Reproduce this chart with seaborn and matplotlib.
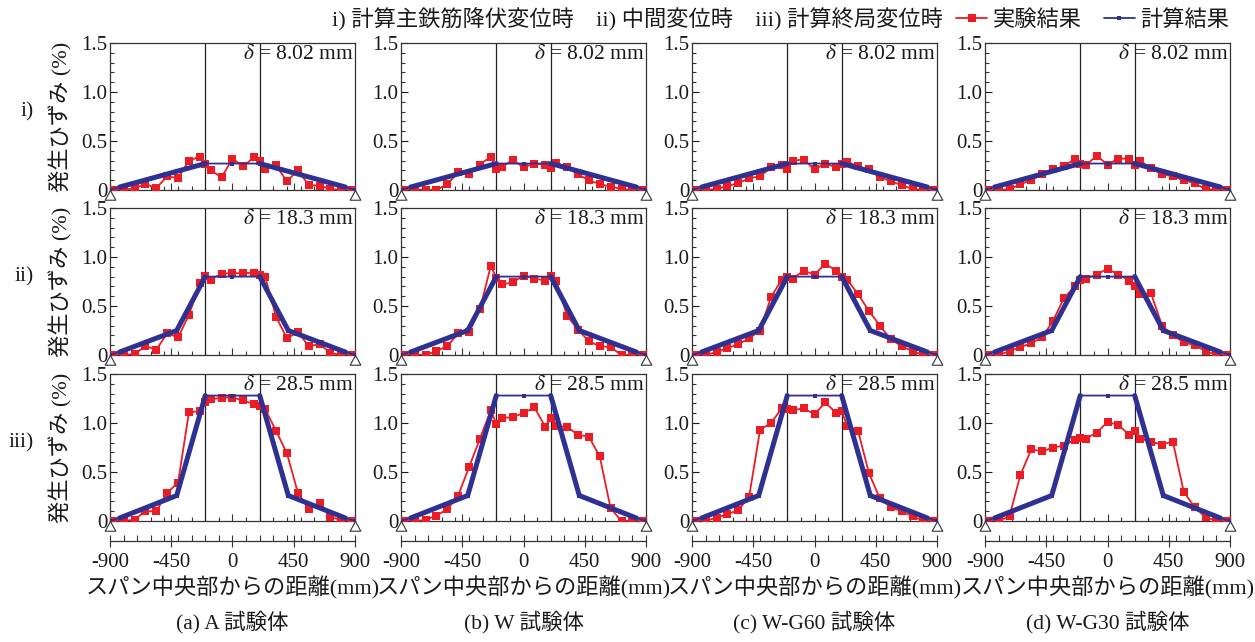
import matplotlib
matplotlib.use("Agg")
import matplotlib.pyplot as plt
import seaborn as sns
from matplotlib.lines import Line2D
from matplotlib.path import Path
from matplotlib.ticker import FixedLocator, MultipleLocator

# ---------------- data ----------------
X_EXP = [-880, -800, -720, -640, -560, -480, -400, -320, -240, -200, -160, -80, 0,
         80, 160, 200, 240, 320, 400, 480, 560, 640, 720, 800, 880]

A_I = [0.00, 0.00, 0.02, 0.06, 0.02, 0.14, 0.12, 0.30, 0.34, 0.27, 0.20, 0.13, 0.32,
       0.24, 0.34, 0.30, 0.21, 0.25, 0.09, 0.20, 0.05, 0.045, 0.01, 0.00, 0.00]
A_II = [0.00, 0.00, 0.01, 0.09, 0.055, 0.22, 0.18, 0.41, 0.73, 0.81, 0.77, 0.83, 0.835,
        0.835, 0.84, 0.82, 0.80, 0.39, 0.17, 0.235, 0.09, 0.11, 0.02, 0.00, 0.00]
A_III = [0.00, 0.00, 0.014, 0.10, 0.10, 0.29, 0.39, 1.11, 1.12, 1.21, 1.24, 1.26, 1.26,
         1.23, 1.19, 1.17, 1.14, 0.92, 0.69, 0.29, 0.12, 0.18, 0.04, 0.01, 0.00]

B_I = [0.00, 0.005, 0.00, 0.00, 0.06, 0.18, 0.165, 0.26, 0.34, 0.21, 0.23, 0.31, 0.23,
       0.27, 0.26, 0.22, 0.28, 0.23, 0.16, 0.10, 0.06, 0.035, 0.01, 0.00, 0.00]
B_II = [0.00, 0.00, 0.00, 0.04, 0.09, 0.22, 0.23, 0.47, 0.91, 0.79, 0.72, 0.74, 0.81,
        0.78, 0.76, 0.81, 0.76, 0.40, 0.26, 0.14, 0.09, 0.08, 0.00, 0.00, 0.00]
B_III = [0.00, 0.00, 0.01, 0.055, 0.12, 0.26, 0.55, 0.84, 1.13, 0.99, 1.05, 1.06, 1.10,
         1.16, 0.96, 1.05, 0.97, 0.96, 0.88, 0.86, 0.66, 0.13, 0.00, 0.00, 0.00]

C_I = [0.00, 0.00, 0.01, 0.04, 0.07, 0.12, 0.14, 0.23, 0.25, 0.21, 0.30, 0.31, 0.21,
       0.27, 0.23, 0.27, 0.29, 0.24, 0.21, 0.13, 0.09, 0.05, 0.01, 0.00, 0.00]
C_II = [0.00, 0.00, 0.03, 0.07, 0.11, 0.17, 0.25, 0.59, 0.77, 0.80, 0.78, 0.86, 0.82,
        0.93, 0.86, 0.80, 0.77, 0.62, 0.45, 0.30, 0.16, 0.09, 0.04, 0.00, 0.00]
C_III = [0.00, 0.00, 0.034, 0.07, 0.11, 0.25, 0.93, 1.00, 1.15, 1.14, 1.13, 1.15, 1.09,
         1.21, 1.10, 1.12, 0.97, 0.92, 0.49, 0.23, 0.14, 0.10, 0.05, 0.00, 0.00]

D_I = [0.00, 0.00, 0.007, 0.06, 0.10, 0.16, 0.21, 0.24, 0.32, 0.27, 0.25, 0.35, 0.26,
       0.32, 0.32, 0.25, 0.30, 0.22, 0.16, 0.14, 0.10, 0.07, 0.01, 0.00, 0.00]
D_II = [0.00, 0.00, 0.04, 0.08, 0.12, 0.18, 0.35, 0.58, 0.70, 0.77, 0.78, 0.82, 0.88,
        0.82, 0.76, 0.70, 0.62, 0.63, 0.30, 0.20, 0.13, 0.10, 0.04, 0.00, 0.00]
D_III = [0.00, 0.00, 0.05, 0.47, 0.73, 0.71, 0.75, 0.77, 0.83, 0.845, 0.84, 0.90, 1.01,
         0.98, 0.88, 0.92, 0.84, 0.81, 0.78, 0.81, 0.30, 0.14, 0.04, 0.00, 0.00]

X_CALC = [-900, -830, -410, -200, 0, 200, 410, 830, 900]
CALC_I = [0.0, 0.03, 0.19, 0.27, 0.27, 0.27, 0.19, 0.03, 0.0]
CALC_II = [0.0, 0.03, 0.25, 0.80, 0.80, 0.80, 0.25, 0.03, 0.0]
CALC_III = [0.0, 0.03, 0.26, 1.28, 1.28, 1.28, 0.26, 0.03, 0.0]

BOUNDARY_X = [-200, 200]
SUPPORT_X = [-900, 900]
X_TICKS = [-900, -450, 0, 450, 900]
X_TICK_LABELS = ["-900", "-450", "0", "450", "900"]
Y_TICKS = [0, 0.5, 1.0, 1.5]
Y_TICK_LABELS = ["0", "0.5", "1.0", "1.5"]

ROW_NAMES = ["i)", "ii)", "iii)"]
DELTAS = ["8.02", "18.3", "28.5"]
COL_TITLES = ["(a) A 試験体", "(b) W 試験体", "(c) W-G60 試験体", "(d) W-G30 試験体"]
HEADER = "i) 計算主鉄筋降伏変位時\u3000ii) 中間変位時\u3000iii) 計算終局変位時"
LEGEND_LABELS = ["実験結果", "計算結果"]
Y_LABEL = "発生ひずみ (%)"
X_LABEL = "スパン中央部からの距離(mm)"

EXP = [[A_I, B_I, C_I, D_I], [A_II, B_II, C_II, D_II], [A_III, B_III, C_III, D_III]]
CALC = [CALC_I, CALC_II, CALC_III]

RED = "#EC1C24"
BLUE = "#2E3192"
FRAME = "#333333"
TXT = "#1a1a1a"

# ---------------- style ----------------
sns.set_theme(style="ticks")
plt.rcParams["font.family"] = ["Liberation Serif", "Noto Sans CJK JP"]
plt.rcParams["mathtext.fontset"] = "stix"
plt.rcParams["axes.unicode_minus"] = False

W, H = 1255, 642
fig = plt.figure(figsize=(W / 100, H / 100), dpi=100)
fig.patch.set_facecolor("white")

COL_LEFT = [110, 401, 692, 985]
ROW_TOP = [43, 208, 374]
PW, PH = 245, 147

tri = Path([(0, 0), (-0.55, -1), (0.55, -1), (0, 0)],
           [Path.MOVETO, Path.LINETO, Path.LINETO, Path.CLOSEPOLY])

for r in range(3):
    for c in range(4):
        ax = fig.add_axes([COL_LEFT[c] / W, 1 - (ROW_TOP[r] + PH) / H, PW / W, PH / H])
        ax.set_facecolor("white")
        for xb in BOUNDARY_X:
            ax.axvline(xb, color="#222222", lw=0.9, zorder=1)

        exp = EXP[r][c]
        calc = CALC[r]
        sns.lineplot(x=X_EXP, y=exp, ax=ax, color=RED, lw=1.3, marker="s",
                     markersize=5.5, markeredgewidth=0, estimator=None, sort=False,
                     legend=False, zorder=3)
        sns.lineplot(x=X_CALC, y=calc, ax=ax, color=BLUE, lw=1.3, marker="s",
                     markersize=3, markeredgewidth=0, estimator=None, sort=False,
                     legend=False, zorder=4)
        sns.lineplot(x=X_CALC[1:4], y=calc[1:4], ax=ax, color=BLUE, lw=3.6,
                     estimator=None, sort=False, legend=False, zorder=4)
        sns.lineplot(x=X_CALC[5:8], y=calc[5:8], ax=ax, color=BLUE, lw=3.6,
                     estimator=None, sort=False, legend=False, zorder=4)

        ax.plot(SUPPORT_X, [0, 0], ls="none", marker=tri, ms=14, mfc="white",
                mec=FRAME, mew=0.8, clip_on=False, zorder=6)

        ax.set_xlim(-900, 900)
        ax.set_ylim(0, 1.5)
        ax.set_xlabel("")
        ax.set_ylabel("")
        ax.yaxis.set_major_locator(FixedLocator(Y_TICKS))
        ax.set_yticklabels(Y_TICK_LABELS)
        ax.yaxis.set_minor_locator(MultipleLocator(0.1))
        ax.xaxis.set_major_locator(FixedLocator(X_TICKS))
        ax.xaxis.set_minor_locator(MultipleLocator(100))
        ax.tick_params(axis="both", which="both", direction="in", top=False,
                       right=False, color=FRAME, width=0.8)
        ax.tick_params(axis="both", which="major", length=5)
        ax.tick_params(axis="both", which="minor", length=3)
        ax.tick_params(axis="x", labelbottom=False)
        ax.tick_params(axis="y", labelsize=15, pad=2, colors=TXT)
        for sp in ax.spines.values():
            sp.set_visible(True)
            sp.set_color(FRAME)
            sp.set_linewidth(0.9)

        ax.text(0.995, 0.985, r"$\delta$ = " + DELTAS[r] + " mm", transform=ax.transAxes,
                ha="right", va="top", fontsize=15.5, color=TXT, zorder=7)

        if r == 2:
            sec = ax.secondary_xaxis(-0.139)
            sec.set_xticks(X_TICKS, labels=X_TICK_LABELS)
            sec.xaxis.set_minor_locator(MultipleLocator(100))
            sec.tick_params(which="major", direction="inout", length=9, labelsize=15,
                            pad=4, color=FRAME, width=0.8, labelcolor=TXT)
            sec.tick_params(which="minor", direction="in", length=4, color=FRAME, width=0.8)
            sec.spines["bottom"].set_color(FRAME)
            sec.spines["bottom"].set_linewidth(0.9)
            sec.set_xlabel(X_LABEL, fontsize=16, labelpad=3, color=TXT)

        if c == 0:
            fig.text(61 / W, 1 - (ROW_TOP[r] + PH / 2) / H, Y_LABEL, rotation=90,
                     ha="center", va="center", fontsize=16, color=TXT)
            fig.text(34 / W, 1 - (ROW_TOP[r] + PH / 2 - 5) / H, ROW_NAMES[r],
                     ha="right", va="center", fontsize=15.5, color=TXT)

for c in range(4):
    fig.text((COL_LEFT[c] + PW / 2) / W, 1 - 622 / H, COL_TITLES[c], ha="center",
             va="center", fontsize=15.5, color=TXT)

fig.text(332 / W, 1 - 20 / H, HEADER, ha="left", va="center", fontsize=16, color=TXT)

handles = [Line2D([], [], color=RED, lw=1.3, marker="s", ms=5.5, mew=0),
           Line2D([], [], color=BLUE, lw=1.3, marker="s", ms=3, mew=0)]
fig.legend(handles, LEGEND_LABELS, loc="center left", bbox_to_anchor=(956 / W, 1 - 20 / H),
           ncol=2, frameon=False, fontsize=16, handlelength=1.4, handletextpad=0.25,
           columnspacing=1.0, borderaxespad=0, borderpad=0, labelcolor=TXT)

fig.savefig("out.png", dpi=100, facecolor="white")
